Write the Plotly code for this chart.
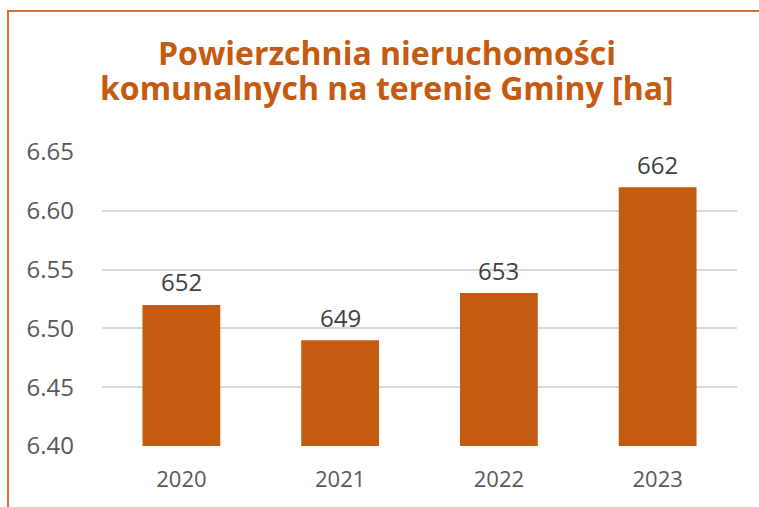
import plotly.graph_objects as go

years = ["2020", "2021", "2022", "2023"]
values = [6.52, 6.49, 6.53, 6.62]
labels = ["652", "649", "653", "662"]
y_ticks = [6.40, 6.45, 6.50, 6.55, 6.60, 6.65]
y_tick_text = ["6.40", "6.45", "6.50", "6.55", "6.60", "6.65"]

title_lines = ["Powierzchnia nieruchomości", "komunalnych na terenie Gminy [ha]"]

fig = go.Figure()
fig.add_trace(go.Bar(
    x=years, y=values,
    marker=dict(color="#C55A11", line=dict(width=0)),
    width=0.49,
    cliponaxis=False,
    hoverinfo="skip",
))

# value labels above bars (category index positions on the category axis)
for i, (v, lab) in enumerate(zip(values, labels)):
    fig.add_annotation(
        x=i, y=v, xref="x", yref="y", text=lab, showarrow=False,
        yanchor="middle", yshift=23,
        font=dict(family="Open Sans", size=24, color="#404040"),
    )

# two-line chart title (separate lines for tighter line spacing)
for line, ypos in zip(title_lines, [1.340, 1.221]):
    fig.add_annotation(
        x=0.4488, y=ypos, xref="paper", yref="paper", text=line,
        showarrow=False, xanchor="center", yanchor="middle",
        font=dict(family="Open Sans", size=32, color="#C55A11", weight="bold"),
    )

fig.update_layout(
    width=759, height=507,
    margin=dict(l=102, r=22, t=152, b=61),
    paper_bgcolor="white", plot_bgcolor="white",
    showlegend=False,
    xaxis=dict(
        type="category",
        range=[-0.5, len(years) - 0.5],
        showgrid=False, showline=False, zeroline=False,
        tickfont=dict(family="Open Sans", size=22, color="#595959"),
        ticklabelstandoff=18,
    ),
    yaxis=dict(
        range=[6.40, 6.65],
        tickvals=y_ticks, ticktext=y_tick_text,
        showgrid=True, gridcolor="#D9D9D9", gridwidth=1.5,
        zeroline=False, showline=False,
        tickfont=dict(family="Open Sans", size=24, color="#595959"),
        ticklabelstandoff=27,
    ),
    shapes=[dict(
        type="rect", xref="paper", yref="paper",
        x0=(8 - 102) / 635, x1=1.2,
        y0=-0.4, y1=(446 - 11) / 294,
        line=dict(color="#D9722F", width=2),
        fillcolor="rgba(0,0,0,0)", layer="below",
    )],
)

fig.write_html(
    "out.html",
    config={"displayModeBar": False},
    post_script="document.body.style.margin='0';document.body.style.overflow='hidden';",
)
